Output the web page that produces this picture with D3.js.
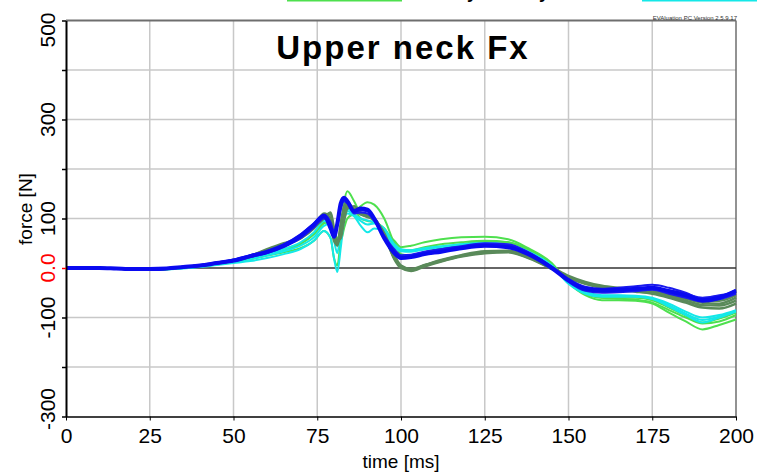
<!DOCTYPE html>
<html>
<head>
<meta charset="UTF-8"/>
<style>
  body { margin: 0; background: #fff; }
  text { font-family: "Liberation Sans", Arial, sans-serif; }
</style>
</head>
<body>
<script src="https://d3js.org/d3.v7.min.js"></script>
<script>
// time samples [ms]
var times = [0,5,10,15,20,25,30,35,40,45, 50,55,60,65,70,74,77,79,80,81, 82,83,84,86,88,90,92,95,98,100,
             103,107,112,118,125,132,138,145,150,155, 160,165,170,175,180,185,190,195,200];

// force [N] per test
var blue1 = [0,0,0,-1,-2,-2,-1,2,5,10, 15,24,32,45,65,88,105,80,63,90, 130,142,135,115,120,118,100,60,30,20,
             22,28,33,40,45,42,28,0,-25,-42, -45,-44,-42,-40,-47,-55,-65,-60,-46];
var blue2 = [0,0,0,-1,-2,-3,-2,1,4,9, 14,22,30,42,60,82,100,85,70,88, 122,138,132,112,116,114,98,62,35,24,
             26,32,38,44,50,48,32,3,-22,-38, -42,-40,-37,-34,-40,-50,-62,-58,-44];
var blue3 = [0,0,0,-1,-2,-2,-1,2,6,11, 17,26,35,48,68,90,108,92,74,85, 118,135,130,110,112,110,95,65,38,26,
             27,33,38,43,47,45,30,2,-26,-44, -47,-46,-45,-42,-45,-52,-60,-55,-50];
var blue4 = [0,0,0,-1,-2,-3,-2,1,5,10, 15,23,31,44,63,85,102,88,72,92, 125,140,134,113,118,116,99,63,33,22,
             24,30,36,42,48,46,31,1,-28,-46, -50,-49,-47,-44,-52,-60,-68,-63,-52];

var dark1 = [0,0,0,-1,-2,-2,-1,2,5,10, 15,24,38,50,62,85,110,100,60,45, 80,118,130,118,110,105,100,65,20,2,
             -5,5,15,25,32,34,22,0,-18,-30, -38,-42,-44,-47,-55,-62,-70,-72,-60];
var dark2 = [0,0,0,-1,-2,-3,-2,1,4,9, 14,22,34,48,60,80,105,110,70,50, 70,105,125,120,108,104,98,70,25,5,
             -2,6,16,26,34,35,24,2,-16,-28, -36,-40,-43,-46,-52,-60,-66,-66,-55];
var dark3 = [0,0,0,-1,-2,-2,-1,2,5,10, 16,25,36,46,60,82,100,112,80,55, 60,95,120,125,112,106,100,68,18,0,
             -6,3,13,23,30,32,20,-2,-20,-32, -40,-45,-48,-52,-60,-70,-80,-82,-72];
var dark4 = [0,0,0,-1,-2,-2,-1,2,5,10, 15,23,35,47,61,84,108,95,55,48, 90,125,133,116,109,103,99,66,22,3,
             -4,5,14,24,31,33,21,-1,-19,-31, -39,-43,-46,-50,-58,-66,-75,-76,-66];

var green1 = [0,0,0,-1,-3,-4,-3,0,3,7, 12,18,25,32,40,55,75,60,20,5, 60,130,155,135,110,105,95,75,55,42,
              45,52,58,62,63,58,40,10,-30,-55, -65,-65,-66,-72,-90,-108,-124,-115,-104];
var green2 = [0,0,0,-1,-2,-3,-2,1,4,8, 12,18,26,36,48,68,90,95,75,60, 55,80,100,110,125,133,128,100,50,28,
              25,32,40,48,54,52,38,8,-28,-50, -60,-62,-64,-70,-85,-100,-112,-108,-95];
var green3 = [0,0,0,-1,-2,-3,-2,1,4,8, 13,20,28,38,50,70,92,90,70,55, 75,115,128,118,100,95,92,80,50,36,
              36,42,48,52,55,52,36,6,-30,-52, -60,-60,-60,-65,-80,-96,-110,-102,-90];

var cyan1 = [0,0,0,-1,-3,-4,-3,-1,2,6, 10,14,20,28,38,55,75,60,20,-8, 40,95,115,105,85,72,80,75,45,35,
             35,38,42,46,48,46,32,5,-32,-52, -58,-58,-58,-62,-78,-95,-110,-100,-88];
var cyan2 = [0,0,0,-1,-2,-3,-2,0,3,7, 12,18,25,34,45,62,85,90,70,55, 70,100,110,105,95,88,90,80,48,38,
             36,40,44,48,50,47,33,5,-28,-48, -55,-55,-56,-60,-72,-88,-100,-95,-85];
var cyan3 = [0,0,0,-1,-2,-3,-2,0,3,8, 13,20,28,38,52,72,95,85,55,30, 80,118,120,108,100,96,92,72,42,34,
             33,38,43,47,50,47,33,4,-30,-50, -56,-56,-57,-62,-75,-92,-105,-98,-86];

var xTicks = [0,25,50,75,100,125,150,175,200];
var yTicks = [-300,-200,-100,0,100,200,300,400,500];
var yLabels = [-300,-100,0,100,300,500];
var legendLabels = ["Dummy", "Dummy"];

var W = 757, H = 474;
var svg = d3.select("body").append("svg").attr("width", W).attr("height", H);

var x = d3.scaleLinear().domain([0, 200]).range([66, 736]);
var y = d3.scaleLinear().domain([-300, 500]).range([416.5, 20.5]);

// grid
svg.append("g").selectAll("line").data(xTicks.slice(1, -1)).enter().append("line")
  .attr("x1", d => x(d)).attr("x2", d => x(d)).attr("y1", y(500)).attr("y2", y(-300))
  .attr("stroke", "#c8c8c8").attr("stroke-width", 1.5);
svg.append("g").selectAll("line").data(yTicks.filter(d => d !== 0 && d !== 500 && d !== -300)).enter().append("line")
  .attr("x1", x(0)).attr("x2", x(200)).attr("y1", d => y(d)).attr("y2", d => y(d))
  .attr("stroke", "#c8c8c8").attr("stroke-width", 1.5);

// frame top / right
svg.append("line").attr("x1", x(0)).attr("x2", x(200)).attr("y1", y(500)).attr("y2", y(500))
  .attr("stroke", "#6e6e6e").attr("stroke-width", 2);
svg.append("line").attr("x1", x(200)).attr("x2", x(200)).attr("y1", y(500)).attr("y2", y(-300))
  .attr("stroke", "#6e6e6e").attr("stroke-width", 1.5);

// zero line
svg.append("line").attr("x1", x(0)).attr("x2", x(200)).attr("y1", y(0)).attr("y2", y(0))
  .attr("stroke", "#333").attr("stroke-width", 1.5);

// curves
var line = d3.line().x((d, i) => x(times[i])).y(d => y(d)).curve(d3.curveMonotoneX);
var groups = [
  { data: [green1, green2, green3], color: "#4ee04e", width: 2 },
  { data: [cyan1, cyan2, cyan3], color: "#14e8e8", width: 2 },
  { data: [dark1, dark2, dark3, dark4], color: "#5a8a5a", width: 2.5 },
  { data: [blue2, blue3, blue4], color: "#1a1aee", width: 2 },
  { data: [blue1], color: "#0a0af0", width: 4 }
];
groups.forEach(function(g) {
  svg.append("g").selectAll("path").data(g.data).enter().append("path")
    .attr("d", line).attr("fill", "none")
    .attr("stroke", g.color).attr("stroke-width", g.width)
    .attr("stroke-linejoin", "round");
});

// axes
var gx = svg.append("g").attr("transform", "translate(0," + y(-300) + ")")
  .call(d3.axisBottom(x).tickValues(xTicks).tickSize(4).tickPadding(8).tickSizeOuter(0));
gx.select(".domain").attr("stroke", "#000").attr("stroke-width", 1.5);
gx.selectAll("text").attr("font-size", 21).attr("fill", "#000")
  .style("font-family", "'Liberation Sans', Arial, sans-serif");

var gy = svg.append("g").attr("transform", "translate(" + x(0) + ",0)")
  .call(d3.axisLeft(y).tickValues(yTicks).tickSize(4).tickFormat("").tickSizeOuter(0));
gy.select(".domain").attr("stroke", "#000").attr("stroke-width", 2);
gy.selectAll(".tick line").attr("stroke", d => d === 0 ? "#f00" : "#000").attr("stroke-width", 1.5);

// y labels (rotated), kept inside the window at the ends
svg.append("g").selectAll("text").data(yLabels).enter().append("text")
  .attr("transform", function(d) {
    var cy = Math.max(30, Math.min(409, y(d)));
    return "translate(55," + cy + ") rotate(-90)";
  })
  .attr("text-anchor", "middle").attr("font-size", 21)
  .attr("fill", d => d === 0 ? "#f00" : "#000")
  .text(d => d === 0 ? "0.0" : d);

// axis titles
svg.append("text").attr("x", x(100)).attr("y", 468).attr("text-anchor", "middle")
  .attr("font-size", 19).text("time [ms]");
svg.append("text").attr("transform", "translate(32,209) rotate(-90)").attr("text-anchor", "middle")
  .attr("font-size", 19).text("force [N]");

// title
svg.append("text").attr("x", 403).attr("y", 59).attr("text-anchor", "middle")
  .attr("font-size", 33).attr("font-weight", "bold")
  .style("letter-spacing", "2px")
  .text("Upper neck Fx");

// version stamp
svg.append("text").attr("x", 737).attr("y", 20).attr("text-anchor", "end")
  .attr("font-size", 6).attr("fill", "#333")
  .text("EVAluation PC Version 2.5.9.17");

// legend (cut off at top edge)
svg.append("line").attr("x1", 287).attr("x2", 402).attr("y1", 0.5).attr("y2", 0.5)
  .attr("stroke", "#4ee04e").attr("stroke-width", 2);
svg.append("line").attr("x1", 642).attr("x2", 757).attr("y1", 0.5).attr("y2", 0.5)
  .attr("stroke", "#14e8e8").attr("stroke-width", 2);
svg.append("g").selectAll("text").data(legendLabels).enter().append("text")
  .attr("x", (d, i) => i === 0 ? 477 : 549).attr("y", -2).attr("text-anchor", "end")
  .attr("font-size", 18).attr("font-weight", "bold")
  .text(d => d);
</script>
</body>
</html>
